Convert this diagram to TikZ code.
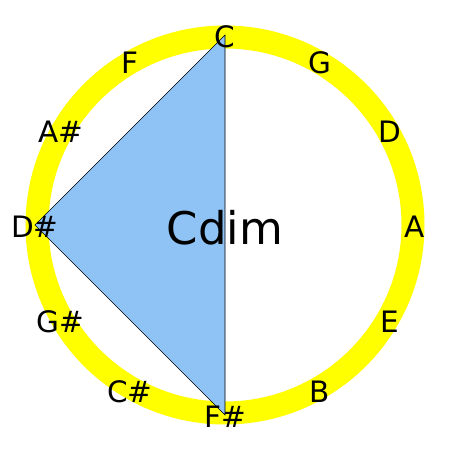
\documentclass[tikz,border=0pt]{standalone}
\usepackage{fontspec}
\setmainfont{DejaVu Sans}
\usetikzlibrary{calc}
\definecolor{ringyellow}{RGB}{255,255,0}
\definecolor{chordblue}{RGB}{143,195,245}
\begin{document}
\begin{tikzpicture}[x=1pt,y=1pt,
  note/.style={inner sep=0pt,font=\fontsize{29.5}{34}\selectfont},
  chordname/.style={inner sep=0pt,font=\fontsize{45}{52}\selectfont}]
\useasboundingbox (0,0) rectangle (450,450);
\coordinate (O) at (225,225);
\draw[ringyellow,line width=23pt] (O) circle (188);
\foreach \n/\a in {C/90,G/60,D/30,A/0,E/-30,B/-60,Fs/-90,Cs/-120,Gs/-150,Ds/180,As/150,F/120}{
  \coordinate (v\n) at ($(O)+(\a:190)$);
}
\draw[fill=chordblue,draw=black,line width=0.6pt] (vC) -- (vDs) -- (vFs) -- cycle;
\node[chordname] (name) at (225,222) {Cdim};
\node[note] (nC) at ($(vC)+(0,-2)$) {C};
\node[note] (nG) at ($(vG)+(0,-2)$) {G};
\node[note] (nD) at ($(vD)+(0,-2)$) {D};
\node[note] (nA) at ($(vA)+(0,-2)$) {A};
\node[note] (nE) at ($(vE)+(0,-2)$) {E};
\node[note] (nB) at ($(vB)+(0,-2)$) {B};
\node[note] (nFs) at ($(vFs)+(0,-2)$) {F\#};
\node[note] (nCs) at ($(vCs)+(0,-2)$) {C\#};
\node[note] (nGs) at ($(vGs)+(0,-2)$) {G\#};
\node[note] (nDs) at ($(vDs)+(0,-2)$) {D\#};
\node[note] (nAs) at ($(vAs)+(0,-2)$) {A\#};
\node[note] (nF) at ($(vF)+(0,-2)$) {F};
\end{tikzpicture}
\end{document}
